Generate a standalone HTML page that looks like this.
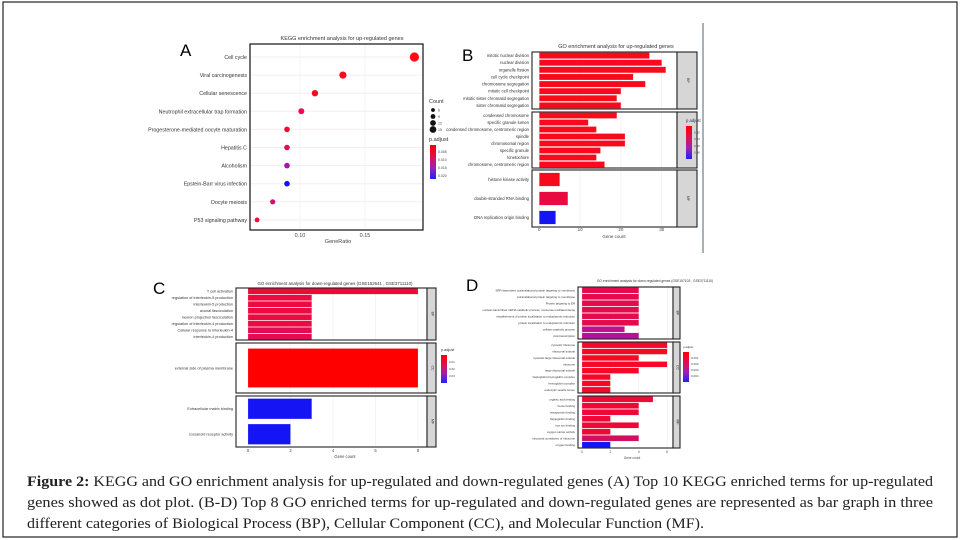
<!DOCTYPE html>
<html><head><meta charset="utf-8"><style>
html,body{margin:0;padding:0;background:#fff;}
svg{display:block;font-family:"Liberation Sans",sans-serif;}
</style></head><body>
<svg id="fig" width="964" height="540" viewBox="0 0 964 540">
<rect x="3" y="2" width="954" height="535" fill="none" stroke="#222" stroke-width="1.2"/>
<line x1="703" y1="23" x2="703" y2="253" stroke="#aab0b8" stroke-width="2"/>
<text x="180" y="56" font-size="17">A</text>
<text x="462" y="61" font-size="17">B</text>
<text x="153" y="294" font-size="17">C</text>
<text x="466" y="291" font-size="17">D</text>
<g id="gA"></g><g id="gB"></g><g id="gC"></g><g id="gD"></g>
<g font-family="Liberation Serif, serif" font-size="14.6" fill="#222">
<text x="27" y="486" textLength="906" lengthAdjust="spacingAndGlyphs"><tspan font-weight="bold">Figure 2:</tspan> KEGG and GO enrichment analysis for up-regulated and down-regulated genes (A) Top 10 KEGG enriched terms for up-regulated</text>
<text x="27" y="507" textLength="906" lengthAdjust="spacingAndGlyphs">genes showed as dot plot. (B-D) Top 8 GO enriched terms for up-regulated and down-regulated genes are represented as bar graph in three</text>
<text x="27" y="528" textLength="677" lengthAdjust="spacingAndGlyphs">different categories of Biological Process (BP), Cellular Component (CC), and Molecular Function (MF).</text>
</g>
</svg>
<script>
// ---- Panel A data ----
const aTerms=["Cell cycle","Viral carcinogenesis","Cellular senescence","Neutrophil extracellular trap formation","Progesterone-mediated oocyte maturation","Hepatitis C","Alcoholism","Epstein-Barr virus infection","Oocyte meiosis","P53 signaling pathway"];
const aRatio=[0.188,0.133,0.1115,0.101,0.090,0.090,0.090,0.090,0.079,0.067];
const aCount=[17,12,10,9,8,8,8,8,7,6];
const aColor=["#ff0a14","#fa0a1e","#f50a25","#e6104a","#f00a30","#e4104c","#a814a8","#1414f0","#d0106e","#ec0c40"];
const aTicks=[0.10,0.15];
// ---- Panel B data ----
const bBP=["mitotic nuclear division","nuclear division","organelle fission","cell cycle checkpoint","chromosome segregation","mitotic cell checkpoint","mitotic sister chromatid segregation","sister chromatid segregation"];
const bBPv=[27,30,31,23,26,20,19,20];
const bCC=["condensed chromosome","specific granule lumen","condensed chromosome, centromeric region","spindle","chromosomal region","specific granule","kinetochore","chromosome, centromeric region"];
const bCCv=[19,12,14,21,21,15,14,16];
const bMF=["histone kinase activity","double-stranded RNA binding","DNA replication origin binding"];
const bMFv=[5,7,4];
const bMFc=["#f80a1c","#e80a40","#1414f5"];
const bTicks=[0,10,20,30];
// ---- Panel C data ----
const cBP=["T cell activation","regulation of interleukin-5 production","interleukin-5 production","axonal fasciculation","neuron projection fasciculation","regulation of interleukin-4 production","Cellular response to interleukin-4","interleukin-4 production"];
const cBPv=[8,3,3,3,3,3,3,3];
const cBPc=["#f00838","#ec0a40","#ec0a40","#ec0a40","#ec0a40","#ec0a40","#e20c52","#e20c52"];
const cCC=["external side of plasma membrane"];
const cCCv=[8];
const cMF=["Extracellular matrix binding","icosanoid receptor activity"];
const cMFv=[3,2];
const cTicks=[0,2,4,6,8];
// ---- Panel D data ----
const dBP=["SRP-dependent cotranslational protein targeting to membrane","cotranslational protein targeting to membrane","Protein targeting to ER","nuclear-transcribed mRNA catabolic process, nonsense-mediated decay","establishment of protein localization to endoplasmic reticulum","protein localization to endoplasmic reticulum","cellular catabolic process","viral transcription"];
const dBPv=[4,4,4,4,4,4,3,4];
const dBPc=["#e40a4c","#e40a4c","#e40a4c","#e40a4c","#e40a4c","#e40a4c","#c0108c","#b8109a"];
const dCC=["cytosolic ribosome","ribosomal subunit","cytosolic large ribosomal subunit","ribosome","large ribosomal subunit","haptoglobin-hemoglobin complex","hemoglobin complex","endocytic vesicle lumen"];
const dCCv=[6,6,4,6,4,2,2,2];
const dMF=["organic acid binding","heme binding","tetrapyrrole binding","haptoglobin binding","iron ion binding","oxygen carrier activity","structural constituent of ribosome","oxygen binding"];
const dMFv=[5,4,4,2,4,2,4,2];
const dMFc=["#ee0838","#ee0838","#ee0838","#ee0838","#ee0838","#ee0838","#d0105e","#1414f5"];
const dTicks=[0,2,4,6];

const NS="http://www.w3.org/2000/svg";
function mk(p,tag,at,txt){const e=document.createElementNS(NS,tag);for(const k in at)e.setAttribute(k,at[k]);if(txt!==undefined)e.textContent=txt;p.appendChild(e);return e;}
function grad(id,cols){const d=mk(document.getElementById('fig'),'defs',{});const g=mk(d,'linearGradient',{id:id,x1:0,y1:0,x2:0,y2:1});cols.forEach((c,i)=>mk(g,'stop',{offset:(i/(cols.length-1)),'stop-color':c}));}

// ---- Panel A ----
(function(){
const g=document.getElementById('gA');
const L=250,R=423,T=44,B=230;
const x=v=>300+(v-0.10)*1300;
const y=i=>57+i*18.1;
const r=c=>1.2+c*0.2;
let t=mk(g,'text',{x:342,y:40,'font-size':5.5,'text-anchor':'middle',fill:'#333'},"KEGG enrichment analysis for up-regulated genes");

aTicks.forEach(v=>{const l=mk(g,'line',{x1:x(v),y1:T,x2:x(v),y2:B,stroke:'#eee','stroke-width':0.6});
 
 const tt=mk(g,'text',{x:x(v),y:237,'font-size':5.5,'text-anchor':'middle',fill:'#444'},v.toFixed(2));
 });
aTerms.forEach((n,i)=>{const l=mk(g,'line',{x1:L,y1:y(i),x2:R,y2:y(i),stroke:'#f6eeee','stroke-width':1});
 
 const tt=mk(g,'text',{x:247,y:y(i)+2,'font-size':5.3,'text-anchor':'end',fill:'#333'},n);
 
 const c=mk(g,'circle',{cx:x(aRatio[i]),cy:y(i),r:r(aCount[i]),fill:aColor[i]});
 });
const fr=mk(g,'rect',{x:L,y:T,width:R-L,height:B-T,fill:'none',stroke:'#111','stroke-width':1.2});

t=mk(g,'text',{x:338,y:243,'font-size':5.5,'text-anchor':'middle',fill:'#444'},"GeneRatio");

t=mk(g,'text',{x:429,y:103,'font-size':5.5,fill:'#333'},"Count");

[6,9,12,15].forEach((c,i)=>{const cc=mk(g,'circle',{cx:433,cy:110+i*6.5,r:r(c)*0.8,fill:'#111'});
 
 mk(g,'text',{x:438,y:111.5+i*6.5,'font-size':3.5,fill:'#444'},c);});
t=mk(g,'text',{x:429,y:141,'font-size':5.5,fill:'#333'},"p.adjust");

grad('gradA',['#ff0000','#e0104a','#a020b0','#2020ff']);
const cb=mk(g,'rect',{x:430,y:145,width:6,height:34,fill:'url(#gradA)'});

["0.005","0.010","0.015","0.020"].forEach((s,i)=>mk(g,'text',{x:438,y:153+i*8,'font-size':3.5,fill:'#444'},s));
})();

// ---- Generic faceted bar panel ----
function barPanel(gid,o){
const g=document.getElementById(gid);
const x=v=>o.x0+v*o.k;
let t=mk(g,'text',{x:o.tx,y:o.ty,'font-size':o.tfs,'text-anchor':'middle',fill:'#333'},o.title);

o.facets.forEach((f)=>{
 const fy0=f.y0,fy1=f.y1;
 o.ticks.forEach(v=>{const l=mk(g,'line',{x1:x(v),y1:fy0,x2:x(v),y2:fy1,stroke:'#ececec','stroke-width':0.6});
  });
 const n=f.names.length, step=(fy1-fy0)/n;
 f.names.forEach((nm,i)=>{const cy=fy0+step*(i+0.5);const bh=step*f.fill;
  const b=mk(g,'rect',{x:x(0),y:cy-bh/2,width:x(f.vals[i])-x(0),height:bh,fill:f.cols[i],stroke:'#fff','stroke-opacity':0.5,'stroke-width':0.3});
  
  const tl=mk(g,'text',{x:o.L-3,y:cy+o.lfs*0.35,'font-size':o.lfs,'text-anchor':'end',fill:'#333'},nm);
  });
 const fr=mk(g,'rect',{x:o.L,y:fy0,width:o.R-o.L,height:fy1-fy0,fill:'none',stroke:'#222','stroke-width':1.1});
 
 const st=mk(g,'rect',{x:o.R,y:fy0,width:o.sw,height:fy1-fy0,fill:'#d6d6d6',stroke:'#222','stroke-width':1.1});
 
 const cx=o.R+o.sw/2,cyy=(fy0+fy1)/2;
 mk(g,'text',{x:cx,y:cyy,'font-size':3.5,'text-anchor':'middle',transform:`rotate(90 ${cx} ${cyy})`,fill:'#333'},f.lab);
});
o.ticks.forEach(v=>{const tt=mk(g,'text',{x:x(v),y:o.tky,'font-size':o.lfs+0.3,'text-anchor':'middle',fill:'#444'},v);
 });
t=mk(g,'text',{x:o.gx,y:o.gy,'font-size':o.lfs+0.3,'text-anchor':'middle',fill:'#444'},"Gene count");

t=mk(g,'text',{x:o.lx,y:o.ly,'font-size':o.lfs,fill:'#333'},"p.adjust");

grad('grad'+gid,['#ff0000','#e0104a','#a020b0','#2020ff']);
const cb=mk(g,'rect',{x:o.lx,y:o.ly+4,width:6,height:o.cbh,fill:'url(#grad'+gid+')'});

o.cbl.forEach((s,i)=>mk(g,'text',{x:o.lx+8,y:o.ly+4+o.cbh*(i+1)/(o.cbl.length+1)+1,'font-size':3,fill:'#444'},s));
}
const fill=(n,c)=>Array(n).fill(c);
barPanel('gB',{L:532,R:677,sw:20,x0:539.3,k:4.08,ticks:bTicks,title:"GO enrichment analysis for up-regulated genes",tx:616,ty:48,tfs:5.5,lfs:4.2,
 facets:[{lab:"BP",names:bBP,vals:bBPv,cols:fill(8,"#f80a1c"),y0:52,y1:109,fill:0.85},
 {lab:"CC",names:bCC,vals:bCCv,cols:fill(8,"#f80a1c"),y0:112,y1:168,fill:0.85},
 {lab:"MF",names:bMF,vals:bMFv,cols:bMFc,y0:170,y1:227,fill:0.7}],
 tky:231,gx:614,gy:238,lx:686,ly:122,cbh:33,cbl:["0.02","0.04","0.06","0.08"]});
barPanel('gC',{L:236,R:427,sw:9,x0:248,k:21.25,ticks:cTicks,title:"GO enrichment analysis for down-regulated genes (GSE152641 , GSE3711110)",tx:335,ty:285,tfs:4.4,lfs:3.8,
 facets:[{lab:"BP",names:cBP,vals:cBPv,cols:cBPc,y0:288,y1:340,fill:0.9},
 {lab:"CC",names:cCC,vals:cCCv,cols:["#ff0000"],y0:343,y1:393,fill:0.78},
 {lab:"MF",names:cMF,vals:cMFv,cols:["#1414f5","#1414f5"],y0:396,y1:447,fill:0.8}],
 tky:452,gx:345,gy:458,lx:441,ly:351,cbh:28,cbl:["0.01","0.02","0.03"]});
barPanel('gD',{L:578,R:673,sw:7,x0:582,k:14.2,ticks:dTicks,title:"GO enrichment analysis for down-regulated genes (GSE157103 , GSE3711110)",tx:655,ty:282,tfs:3.3,lfs:2.9,
 facets:[{lab:"BP",names:dBP,vals:dBPv,cols:dBPc,y0:287,y1:339,fill:0.88},
 {lab:"CC",names:dCC,vals:dCCv,cols:fill(8,"#f40a26"),y0:342,y1:393,fill:0.88},
 {lab:"MF",names:dMF,vals:dMFv,cols:dMFc,y0:396,y1:448,fill:0.88}],
 tky:453,gx:632,gy:459,lx:683,ly:348,cbh:30,cbl:["0.001","0.002","0.003","0.004"]});
</script>
</body></html>
